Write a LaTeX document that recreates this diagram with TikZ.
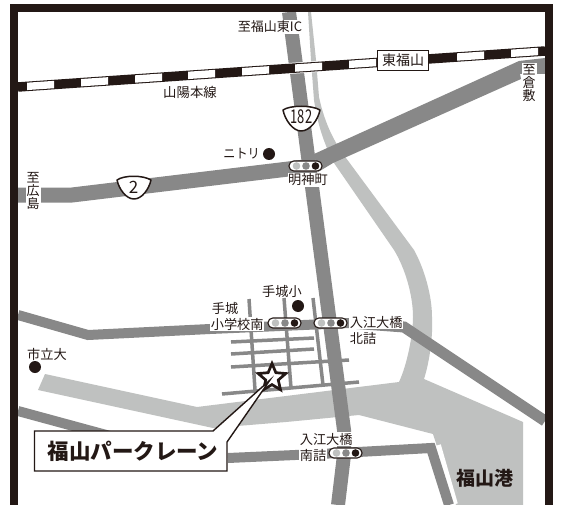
\documentclass[tikz,border=0pt]{standalone}
\usepackage{fontspec}
\setmainfont{Noto Sans CJK JP}
\usetikzlibrary{shapes.geometric}
\definecolor{ink}{HTML}{231815}
\definecolor{road}{HTML}{888888}
\definecolor{water}{HTML}{BFC1C0}
\tikzset{
 roadline/.style={draw=road,line width=#1,line join=miter},
 roadline/.default=14,
 minor/.style={draw=road,line width=3.5},
 lab/.style={text=ink,font=\fontsize{13.2}{13.2}\selectfont,inner sep=0.6,fill=white,anchor=west},
 plain/.style={text=ink,font=\fontsize{13.2}{13.2}\selectfont,inner sep=0},
 vlab/.style={text=ink,font=\fontsize{13}{13}\selectfont,inner sep=1,fill=white,align=center},
 dot/.style={circle,fill=ink,minimum size=12,inner sep=0},
 shieldtext/.style={text=ink,inner sep=0},
 shield/.style={draw=ink,line width=1.5,fill=white,line join=round},
}
\newcommand{\signal}[2]{%
 \draw[ink,line width=1.1,fill=white,rounded corners=4.8] (#1,#2) rectangle (#1+33,#2+10);
 \fill[water] (#1+7.5,#2+5) circle (3.8);
 \fill[road] (#1+17,#2+5) circle (3.8);
 \fill[ink] (#1+26.5,#2+5) circle (3.8);
}
\begin{document}
\begin{tikzpicture}[x=1pt,y=-1pt]
\useasboundingbox (0,0) rectangle (572,505);
\fill[white] (0,0) rectangle (572,505);
% water / light roads
\fill[water] (308,12) -- (311,60) -- (314,100) .. controls (317,120) and (322,140) .. (334,163) -- (394,250)
 .. controls (405,268) and (413,295) .. (413,317) .. controls (413,335) and (407,365) .. (399,382)
 -- (286,396) -- (197,407) -- (45,374) -- (38,390) -- (213,428) -- (286,422) -- (359,415) -- (433,434) -- (456,505) -- (523,505) -- (523,422) -- (424,379)
 .. controls (430,360) and (433,335) .. (432,317) .. controls (432,295) and (424,268) .. (414,250)
 -- (346,158) .. controls (335,143) and (325,125) .. (319,97) -- (316,60) -- (311,12) -- cycle;
% minor streets
\draw[minor] (249,299) -- (255,390);
\draw[minor] (284,298) -- (291,388);
\draw[minor] (313,298) -- (323,385);
\draw[minor] (231,342) -- (314,338);
\draw[minor] (231,354) -- (314,349);
\draw[minor] (231,367) -- (349,360);
\draw[minor] (222,394) -- (359,382);
% roads
\draw[roadline=15] (18,195) -- (72,195) -- (305,167);
\fill[road] (314,154) -- (519,61) -- (545,58) -- (545,74) -- (520,74) -- (521,79) -- (333,163) -- (318,172) -- cycle;
\draw[roadline=14] (289,12) -- (344,430) -- (344,455) -- (338,505);
\draw[roadline=10] (18,315) -- (88,335) -- (210,329) -- (350,323);
\draw[roadline=11] (350,323) -- (404,327) -- (545,421);
\draw[roadline=10] (18,411) -- (110,436);
\draw[white,line width=12] (435,446) -- (452,505);
\draw[roadline=10] (228,458) -- (340,453) -- (431,448) -- (449,505);
% railway
\draw[white,line width=11] (18,87) -- (545,51);
\draw[ink,line width=9.5] (18,87) -- (545,51);
\foreach \a in {27,81,135,188,242,295,349,457,511}{
 \fill[white] (\a,{87-(\a-18)*0.0683-3.7}) -- (\a+27,{87-(\a+27-18)*0.0683-3.7}) -- (\a+27,{87-(\a+27-18)*0.0683+3.7}) -- (\a,{87-(\a-18)*0.0683+3.7}) -- cycle;
}
% frame
\draw[ink,line width=8] (14,505) -- (14,8.5) -- (549,8.5) -- (549,505);
% station
\node[draw=ink,line width=1.8,fill=white,text=ink,inner sep=0,minimum width=51,minimum height=20,font=\fontsize{14}{14}\selectfont] (station) at (403,60.5) {東福山};
% labels
\node[vlab,inner sep=1] (ic) at (270,27) {至福山東IC};
\node[plain] (line) at (190,92.5) {\fontsize{13.4}{13.4}\selectfont 山陽本線};
\node[plain,anchor=east] (nitori) at (260,154) {\scalebox{0.92}[1]{ニトリ}};
\node[dot] (d1) at (269,154) {};
\node[vlab] (hiroshima) at (33,191) {至\\広\\島};
\node[vlab] (kurashiki) at (529,83) {至\\倉\\敷};
\node[lab,anchor=center] (myojin) at (308,180) {明神町};
\node[plain] (tejosho) at (282,291) {手城小};
\node[dot] (d2) at (298,306) {};
\node[plain] (ichi) at (47,354) {市立大};
\node[dot] (d3) at (35,367) {};
\node[lab] (te) at (211,308) {手城};
\node[lab] (sho) at (210,324) {小学校南};
\node[lab] (k1) at (349,322) {入江大橋};
\node[lab] (k2) at (349,338) {北詰};
\node[lab] (s1) at (299,439) {入江大橋};
\node[lab] (s2) at (299,455) {南詰};
% signals
\signal{289}{161}
\signal{268}{318}
\signal{314}{318}
\signal{329}{448}
% route shields
\draw[shield] (283,110) .. controls (290,105) and (312,105) .. (320,110) .. controls (318,120) and (310,131) .. (301,131) .. controls (293,131) and (285,120) .. (283,110) -- cycle;
\node[shieldtext,font=\fontsize{19}{19}\selectfont] (r182) at (301.5,117) {\scalebox{0.68}[1]{182}};
\draw[shield] (117,180) .. controls (124,175) and (143,175) .. (151,180) .. controls (149,189) and (142,199) .. (134,199) .. controls (126,199) and (119,189) .. (117,180) -- cycle;
\node[shieldtext,font=\fontsize{17}{17}\selectfont] (r2) at (133.5,187) {2};
% star then callout
\node[star,star points=5,star point ratio=2.2,draw=ink,line width=2.7,fill=white,minimum size=29,inner sep=0] (site) at (272,378) {};
\draw[ink,line width=1.4,fill=white,line join=miter] (34.5,431) -- (213,431) -- (270,380) -- (227,442) -- (227,471) -- (34.5,471) -- cycle;
\node[text=ink,font=\fontsize{21.5}{21.5}\selectfont\bfseries,inner sep=0] (park) at (133,451) {福山パークレーン};
\node[text=ink,font=\fontsize{19}{19}\selectfont\bfseries,inner sep=0] (port) at (484.5,478) {福山港};
\end{tikzpicture}
\end{document}
